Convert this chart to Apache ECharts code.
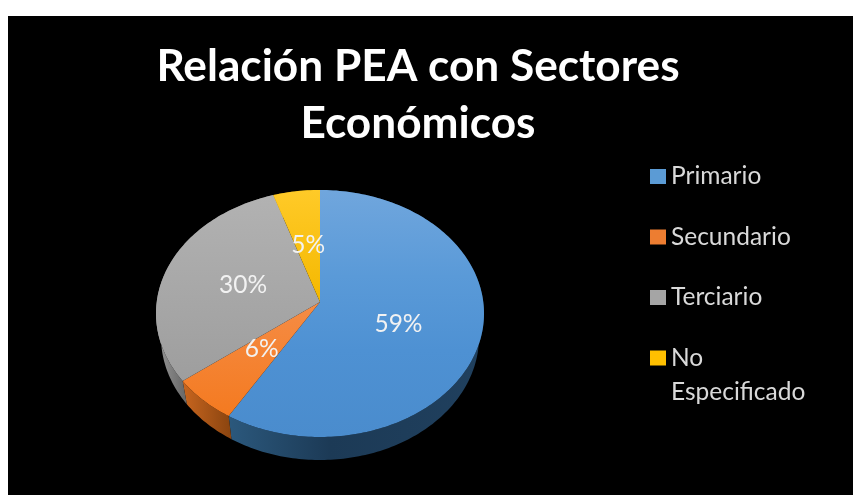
<!DOCTYPE html>
<html><head><meta charset="utf-8">
<style>html,body{margin:0;padding:0;background:#fff;overflow:hidden}
#c{position:absolute;left:8px;top:16px;width:845px;height:479px;background:#000}</style>
<script src="https://cdn.jsdelivr.net/npm/echarts@6/dist/echarts.min.js"></script>
</head><body><div id="c"></div>
<script>
const titleText = 'Relación PEA con Sectores\nEconómicos';
const categories = ['Primario','Secundario','Terciario','No Especificado'];
const values = [59.4, 6.4, 29.6, 4.6];
const colors = ['#5b9bd5','#ed7d31','#a5a5a5','#ffc000'];

const OX = 8, OY = 16;
const geo = {cx:320-OX, cy:313.5-OY, rx:164, ry:123.5, ay:302-OY, lay:306-OY, bcy:337-OY, brx:159, bry:123};
const topGrad = [
  [[0,'#70a6dd'],[0.35,'#5a9ad8'],[0.65,'#4e91d3'],[1,'#4a8ccd']],
  [[0,'#f58c45'],[1,'#f47a20']],
  [[0,'#b2b2b2'],[1,'#9e9e9e']],
  [[0,'#ffca28'],[1,'#f4b800']]
];
const topRange = [[190,437],[302,416],[195,379],[190,302]].map(r=>r.map(v=>v-OY));
const wallGrad = [
  [[0,'#2b587c'],[0.4,'#1c3a56'],[1,'#20405e']],
  [[0,'#c9661f'],[1,'#8b4510']],
  [[0,'#929292'],[1,'#6a6a6a']],
  [[0,'#b58a00'],[1,'#b58a00']]
];
const wallRange = [[230,480],[182,230],[160,184],[270,320]].map(r=>r.map(v=>v-OX));
const grad = (x,y,x2,y2,stops)=>({type:'linear',x,y,x2,y2,global:true,
  colorStops:stops.map(s=>({offset:s[0],color:s[1]}))});

const total = values.reduce((a,b)=>a+b,0);
let acc = 0;
const spans = values.map(v=>{const s=[acc/total,(acc+v)/total];acc+=v;return s;});

function arc(cx,cy,rx,ry,a0,a1){
  const pts=[], n=Math.max(4,Math.ceil(Math.abs(a1-a0)/0.02));
  for(let i=0;i<=n;i++){const t=a0+(a1-a0)*i/n;pts.push([cx+rx*Math.sin(t),cy-ry*Math.cos(t)]);}
  return pts;
}
function makeRender(i){
  return function(){
    const a0=spans[i][0]*2*Math.PI, a1=spans[i][1]*2*Math.PI, m=(a0+a1)/2, g=geo;
    return {type:'group',children:[
      {type:'polygon',z2:0,shape:{points:arc(g.cx,g.cy,g.rx,g.ry,a0,a1).concat(arc(g.cx,g.bcy,g.brx,g.bry,a1,a0))},
       style:{fill:grad(wallRange[i][0],0,wallRange[i][1],0,wallGrad[i])}},
      {type:'polygon',z2:10,shape:{points:[[g.cx,g.ay]].concat(arc(g.cx,g.cy,g.rx,g.ry,a0,a1))},
       style:{fill:grad(0,topRange[i][0],0,topRange[i][1],topGrad[i])}},
      {type:'text',z2:20,x:g.cx+g.rx*0.5*Math.sin(m),y:g.lay-g.ry*0.5*Math.cos(m),
       style:{text:Math.round(values[i]/total*100)+'%',fill:'#f2f2f2',font:'24.5px Lato',align:'center',verticalAlign:'middle'}}
    ]};
  };
}
const chart = echarts.init(document.getElementById('c'),null,{renderer:'canvas'});
chart.setOption({
  backgroundColor:'#000',
  animation:false,
  title:{text:titleText,left:413-OX,top:33-OY,textAlign:'center',
    textStyle:{color:'#fff',fontFamily:'Lato',fontWeight:'bold',fontSize:44.2,lineHeight:57}},
  legend:{orient:'vertical',left:650-OX,top:164-OY,padding:0,icon:'rect',itemWidth:16,itemHeight:15,itemGap:35.5,
    selectedMode:false,textStyle:{color:'#d9d9d9',fontFamily:'Lato',fontSize:24.5,padding:[0,0,0,0]},
    data:categories.slice(0,3).map(n=>({name:n})).concat([{name:categories[3],
      textStyle:{padding:[34,0,0,0],rich:{l:{color:'#d9d9d9',fontFamily:'Lato',fontSize:24.5,lineHeight:34}}}}]),
    formatter:n=>n===categories[3]?'{l|No}\n{l|Especificado}':n
  },
  series:categories.map((n,i)=>({type:'custom',name:n,coordinateSystem:'none',
    itemStyle:{color:colors[i]},renderItem:makeRender(i),data:[values[i]],silent:true}))
});
</script></body></html>
